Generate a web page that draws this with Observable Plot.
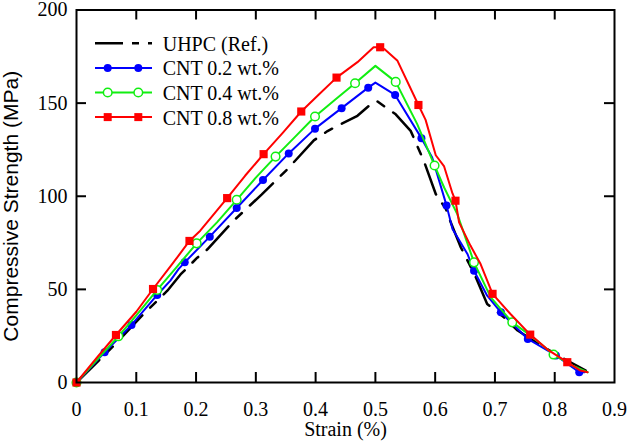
<!DOCTYPE html>
<html><head><meta charset="utf-8">
<script src="https://cdn.jsdelivr.net/npm/d3@7"></script>
<script src="https://cdn.jsdelivr.net/npm/@observablehq/plot@0.6"></script>
<style>
body{margin:0;background:#fff;}
#wrap{position:relative;width:629px;height:444px;}
</style></head><body><div id="wrap"></div>
<script>
// ---- data ----
const seriesNames = ["UHPC (Ref.)", "CNT 0.2 wt.%", "CNT 0.4 wt.%", "CNT 0.8 wt.%"];
const seriesColors = ["#000000", "#0000ff", "#11ee11", "#ff0000"];

const refStrain = [0,0.068,0.11,0.152,0.174,0.202,0.219,0.263,0.31,0.353,0.397,0.42,0.442,0.47,0.489,0.502,0.534,0.559,0.581,0.601,0.618,0.626,0.643,0.657,0.668,0.687,0.715,0.738,0.777,0.821,0.852];
const refStress = [0,21.6,36,49.3,58,67,71.5,86.9,101,114.6,130,135,138.7,143.2,148.5,151.2,144,135.1,119,101.2,93.1,86,72.5,63.6,56.5,42.2,35,27.9,19.8,11.8,6.4];

const c02Strain = [0,0.047,0.092,0.135,0.157,0.171,0.181,0.223,0.268,0.312,0.355,0.399,0.4435,0.488,0.5,0.533,0.577,0.595,0.619,0.629,0.654,0.665,0.687,0.71,0.755,0.802,0.841,0.85];
const c02Stress = [0,16.2,30.9,47,54.7,61,64.5,78.3,93.7,108.7,123,136.3,147.3,158.3,161,154.4,131.2,120.8,95.1,82.4,69,60,46.6,37.7,23.4,14.5,5.5,5.5];
const c02MarkStrain = [0,0.047,0.092,0.135,0.181,0.223,0.268,0.312,0.355,0.399,0.4435,0.488,0.533,0.577,0.619,0.665,0.71,0.755,0.802,0.841];
const c02MarkStress = [0,16.2,30.9,47,64.5,78.3,93.7,108.7,123,136.3,147.3,158.3,154.4,131.2,95.1,60,37.7,23.4,14.5,5.5];

const c04Strain = [0,0.035,0.07,0.1,0.135,0.165,0.201,0.235,0.268,0.3,0.333,0.366,0.399,0.433,0.466,0.5,0.534,0.57,0.599,0.615,0.637,0.665,0.693,0.729,0.76,0.798,0.83,0.855];
const c04Stress = [0,12.5,24.8,36,49.7,61,74.7,86,98.1,110,121.3,132,142.8,152,160.7,170,161.4,138.7,116.5,104.7,90.4,64.5,45.7,32.3,25.2,15,9,5.5];
const c04MarkStrain = [0,0.07,0.135,0.201,0.268,0.333,0.399,0.466,0.534,0.599,0.665,0.729,0.798];
const c04MarkStress = [0,24.8,49.7,74.7,98.1,121.3,142.8,160.7,161.4,116.5,64.5,32.3,15];

const c08Strain = [0,0.033,0.066,0.1,0.128,0.16,0.189,0.207,0.252,0.282,0.313,0.345,0.376,0.405,0.435,0.47,0.497,0.508,0.515,0.537,0.572,0.584,0.601,0.615,0.629,0.634,0.64,0.659,0.676,0.696,0.726,0.759,0.79,0.821,0.843,0.855];
const c08Stress = [0,13,25.5,38,50.2,63.5,76,81.5,99,111,122.6,134,145.5,154.5,163.7,172,180,180,179,172.7,149,141,122,116,101.5,97.6,86,73.5,63.6,47.6,36.8,25.7,17.2,10.9,6.4,5.5];
const c08MarkStrain = [0,0.066,0.128,0.189,0.252,0.313,0.376,0.435,0.508,0.572,0.634,0.696,0.759,0.821];
const c08MarkStress = [0,25.5,50.2,76,99,122.6,145.5,163.7,180,149,97.6,47.6,25.7,10.9];

const xTickValues = [0,0.1,0.2,0.3,0.4,0.5,0.6,0.7,0.8,0.9];
const xInnerTicks = [0.1,0.2,0.3,0.4,0.5,0.6,0.7,0.8];
const yTickValues = [0,50,100,150,200];
const yInnerTicks = [50,100,150];
const xLabel = "Strain (%)";
const yLabel = "Compressive Strength (MPa)";

// ---- build tables ----
const zip = (xs, ys, s) => xs.map((x, i) => ({strain: x, stress: ys[i], series: s}));
const refLine = zip(refStrain, refStress, seriesNames[0]);
const l02 = zip(c02Strain, c02Stress, seriesNames[1]);
const l04 = zip(c04Strain, c04Stress, seriesNames[2]);
const l08 = zip(c08Strain, c08Stress, seriesNames[3]);
const m02 = zip(c02MarkStrain, c02MarkStress, seriesNames[1]);
const m04 = zip(c04MarkStrain, c04MarkStress, seriesNames[2]);
const m08 = zip(c08MarkStrain, c08MarkStress, seriesNames[3]);

const W = 629, H = 444, mL = 76, mR = 15, mT = 9.5, mB = 62;
const innerW = W - mL - mR, innerH = H - mT - mB;
const serif = "Liberation Serif, Times New Roman, serif";
const sans = "Liberation Sans, Arial, sans-serif";
const dash = "32,11,8,11";

const chart = Plot.plot({
  width: W, height: H,
  marginLeft: mL, marginRight: mR, marginTop: mT, marginBottom: mB,
  style: "font-family: 'Liberation Serif', serif; font-size: 20px; color: #000; background: #fff; overflow: visible;",
  x: {domain: [0, 0.9]},
  y: {domain: [0, 200]},
  marks: [
    Plot.axisX(xTickValues, {tickSize: 0, tickPadding: 19, tickFormat: d => String(d), label: null, fontSize: 20, fontFamily: serif}),
    Plot.axisY(yTickValues, {tickSize: 0, tickPadding: 9, label: null, fontSize: 20, fontFamily: serif}),
    Plot.tickX(xInnerTicks, {x: d => d, insetTop: innerH - 10, stroke: "#000", strokeWidth: 2}),
    Plot.tickX(xInnerTicks, {x: d => d, insetBottom: innerH - 10, stroke: "#000", strokeWidth: 2}),
    Plot.tickY(yInnerTicks, {y: d => d, insetRight: innerW - 10, stroke: "#000", strokeWidth: 2}),
    Plot.tickY(yInnerTicks, {y: d => d, insetLeft: innerW - 10, stroke: "#000", strokeWidth: 2}),
    Plot.line(refLine, {x: "strain", y: "stress", stroke: seriesColors[0], strokeWidth: 2.5, strokeDasharray: dash}),
    Plot.line(l02, {x: "strain", y: "stress", stroke: seriesColors[1], strokeWidth: 2}),
    Plot.dot(m02, {x: "strain", y: "stress", r: 4, fill: seriesColors[1], stroke: "none"}),
    Plot.line(l04, {x: "strain", y: "stress", stroke: seriesColors[2], strokeWidth: 2}),
    Plot.dot(m04, {x: "strain", y: "stress", r: 4.3, fill: "#fff", stroke: seriesColors[2], strokeWidth: 1.5}),
    Plot.line(l08, {x: "strain", y: "stress", stroke: seriesColors[3], strokeWidth: 2}),
    Plot.dot(m08, {x: "strain", y: "stress", r: 4.6, symbol: "square", fill: seriesColors[3], stroke: "none"}),
    Plot.frame({stroke: "#000", strokeWidth: 2}),
    Plot.text([xLabel], {text: d => d, frameAnchor: "bottom", lineAnchor: "middle", textAnchor: "middle", dy: 47, fontSize: 20, fontFamily: serif}),
    Plot.text([yLabel], {text: d => d, frameAnchor: "left", textAnchor: "middle", lineAnchor: "middle", dx: -65, dy: 10, rotate: -90, fontSize: 21, fontFamily: sans})
  ]
});
const wrap = document.getElementById("wrap");
wrap.appendChild(chart);

// ---- legend (inside the plot area, top-left) ----
const leg = d3.create("svg")
  .attr("width", 340).attr("height", 140)
  .style("position", "absolute").style("left", "0px").style("top", "0px")
  .style("overflow", "visible");
const rowY = i => 43.3 + i * 24.6;
seriesNames.forEach((name, i) => {
  const g = leg.append("g");
  const y = rowY(i);
  const ln = g.append("line").attr("x1", 95).attr("x2", 152).attr("y1", y).attr("y2", y)
    .attr("stroke", seriesColors[i]).attr("stroke-width", i === 0 ? 2.5 : 2);
  if (i === 0) ln.attr("stroke-dasharray", "28,9,7,9");
  [107.7, 138.3].forEach(cx => {
    if (i === 1) g.append("circle").attr("cx", cx).attr("cy", y).attr("r", 4).attr("fill", seriesColors[1]);
    if (i === 2) g.append("circle").attr("cx", cx).attr("cy", y).attr("r", 4.3).attr("fill", "#fff").attr("stroke", seriesColors[2]).attr("stroke-width", 1.5);
    if (i === 3) g.append("rect").attr("x", cx - 4).attr("y", y - 4).attr("width", 8).attr("height", 8).attr("fill", seriesColors[3]);
  });
  g.append("text").attr("x", 162.7).attr("y", y + 7.5)
    .attr("font-family", serif).attr("font-size", 20).attr("fill", "#000").text(name);
});
wrap.appendChild(leg.node());
</script></body></html>
